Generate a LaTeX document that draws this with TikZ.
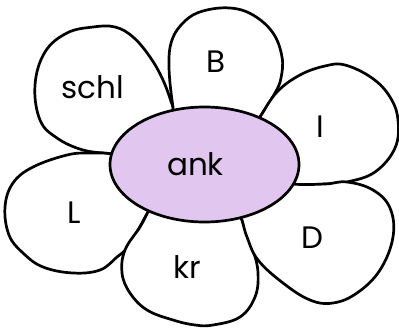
\documentclass[tikz,border=0pt]{standalone}
\usepackage{fontspec}
\setmainfont{Poppins}
\definecolor{lilac}{HTML}{E1C7EF}
\tikzset{
  petal/.style={draw=black, fill=white, line width=2.7pt, line join=round},
  middle/.style={draw=black, fill=lilac, line width=2.7pt},
  word/.style={anchor=base, inner sep=0pt, font=\fontsize{31}{31}\selectfont},
}

\begin{document}
\begin{tikzpicture}[x=1pt,y=-1pt]
  \useasboundingbox (0,0) rectangle (399,327);
  % petals, back to front
  \draw[petal] plot[smooth cycle, tension=0.65] coordinates {(180,127) (173,107) (163,80) (150,57) (133,37) (115,27) (93,27) (67,33) (45,52) (35,85) (40,120) (57,138) (83,150) (112,154) (130,158)};
  \draw[petal] plot[smooth cycle, tension=0.65] coordinates {(250,135) (260,117) (275,93) (281,78) (282,57) (273,33) (253,15) (230,8) (203,11) (185,21) (172,40) (169,67) (173,107) (178,127)};
  \draw[petal] plot[smooth cycle, tension=0.65] coordinates {(245,140) (260,117) (277,92) (300,75) (325,66) (345,65) (372,78) (390,97) (398,120) (395,148) (375,172) (347,182) (325,184) (293,184) (270,175)};
  \draw[petal] plot[smooth cycle, tension=0.65] coordinates {(156,198) (148,212) (138,230) (127,248) (117,257) (100,270) (73,273) (43,267) (23,253) (9,235) (5,207) (13,183) (33,167) (67,155) (90,153) (112,154) (130,160)};
  \draw[petal] plot[smooth cycle, tension=0.65] coordinates {(237,205) (242,220) (253,250) (258,273) (255,297) (240,317) (213,325) (195,325) (173,320) (147,310) (130,293) (122,273) (125,250) (140,227) (148,212) (156,198)};
  \draw[petal] plot[smooth cycle, tension=0.65] coordinates {(270,178) (293,184) (325,184) (347,182) (373,190) (390,208) (393,237) (380,270) (357,293) (333,303) (310,300) (283,283) (258,260) (247,237) (242,220) (237,205)};
  % centre
  \draw[middle] (204.5,164.5) ellipse [x radius=94.5pt, y radius=57.5pt];
  \node[word] (ank) at (195.5,175) {ank};
  \node[word] (schl) at (92.5,98) {schl};
  \node[word] (b) at (215.5,72) {B};
  \node[word] (i) at (320,137) {I};
  \node[word] (d) at (312,248) {D};
  \node[word] (kr) at (187.5,278) {kr};
  \node[word] (l) at (74.5,223) {L};
\end{tikzpicture}
\end{document}
